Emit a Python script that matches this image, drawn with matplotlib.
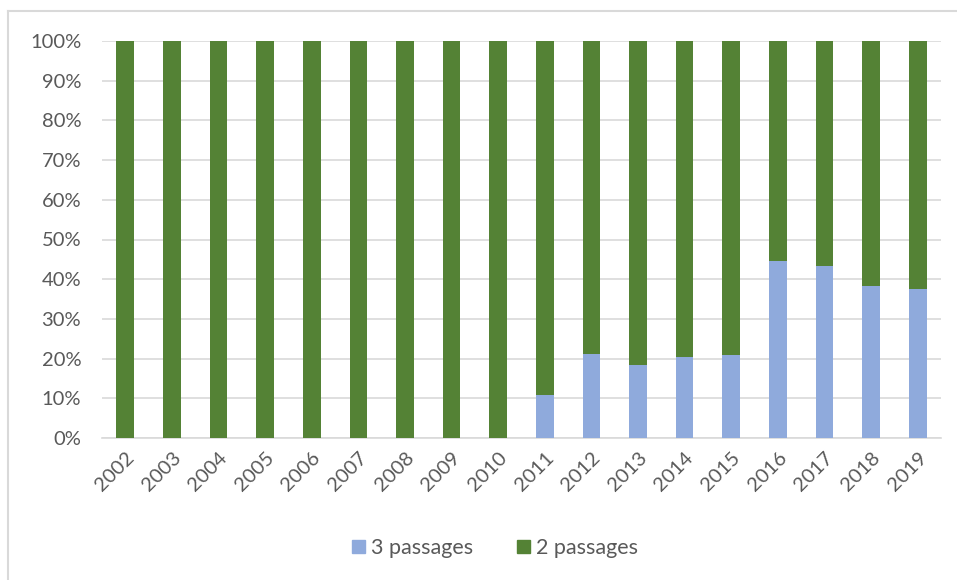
import matplotlib
matplotlib.use("Agg")
import matplotlib.pyplot as plt
from matplotlib.patches import Patch
from matplotlib.lines import Line2D
from matplotlib.ticker import PercentFormatter
import numpy as np

years = [str(y) for y in range(2002, 2020)]
# share of 3-passage runs, in percent
three_pass = [0, 0, 0, 0, 0, 0, 0, 0, 0,
              10.8, 21.2, 18.5, 20.4, 20.8, 44.7, 43.4, 38.2, 37.5]
two_pass = [100 - v for v in three_pass]

blue = "#8faadc"
green = "#548235"
grey = "#595959"

plt.rcParams['font.family'] = ['Lato', 'DejaVu Sans']

fig = plt.figure(figsize=(9.57, 5.8), dpi=100)
ax = fig.add_axes([102/957, 1 - 438/580, (941 - 102)/957, (438 - 41)/580])

x = np.arange(len(years))
ax.bar(x, three_pass, width=0.38, color=blue, zorder=3)
ax.bar(x, two_pass, width=0.38, bottom=three_pass, color=green, zorder=3)

ax.set_xlim(-0.5, len(years) - 0.5)
ax.set_ylim(0, 100)
ax.set_yticks(range(0, 101, 10))
ax.yaxis.set_major_formatter(PercentFormatter(decimals=0))
ax.grid(axis='y', color='#d9d9d9', linewidth=1.2, zorder=0)
for s in ['top', 'right', 'left']:
    ax.spines[s].set_visible(False)
ax.spines['bottom'].set_color('#d9d9d9')
ax.spines['bottom'].set_linewidth(1.2)
ax.tick_params(length=0, labelsize=14.5, colors=grey)
ax.tick_params(axis='y', pad=15)
ax.set_xticks(x)
ax.set_xticklabels(years, rotation=45, ha='right', rotation_mode='anchor')
ax.tick_params(axis='x', pad=8)

handles = [Patch(color=blue, label='3 passages'), Patch(color=green, label='2 passages')]
fig.legend(handles=handles, loc='center', bbox_to_anchor=(495/957, 1 - 548/580),
           ncol=2, frameon=False, fontsize=15.5, labelcolor=grey,
           handlelength=0.6, handleheight=0.6, handletextpad=0.3, columnspacing=2.0)

# chart frame (partially visible)
fig.add_artist(Line2D([8/957, 8/957], [0, 1 - 11/580], transform=fig.transFigure, color='#d9d9d9', lw=1.5))
fig.add_artist(Line2D([8/957, 1], [1 - 11/580, 1 - 11/580], transform=fig.transFigure, color='#d9d9d9', lw=1.5))

fig.savefig("out.png", dpi=100)
